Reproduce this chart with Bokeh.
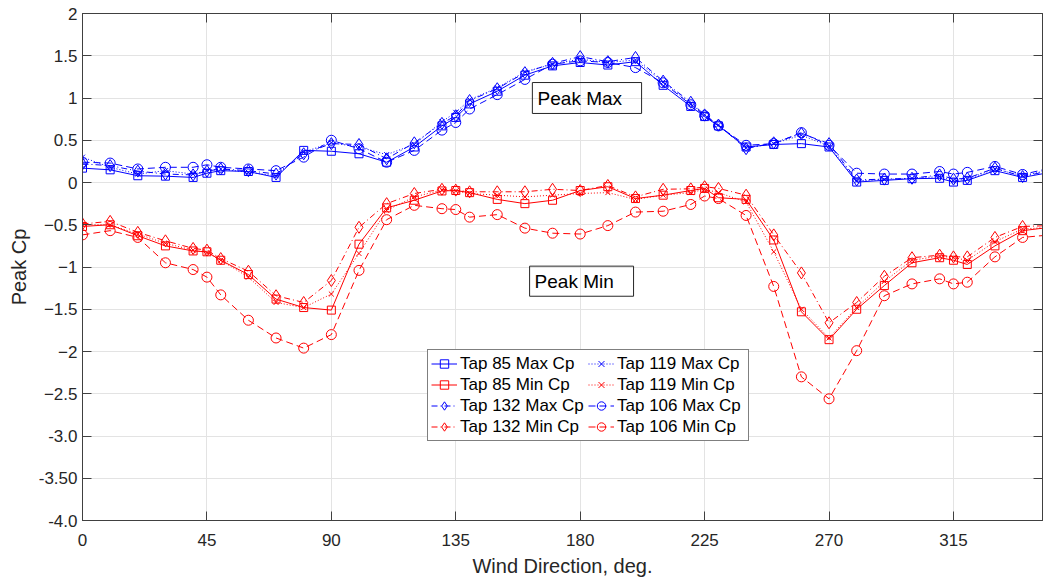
from bokeh.plotting import figure
from bokeh.models import (Range1d, FixedTicker, LinearAxis, Legend, LegendItem,
                          BoxAnnotation, Label)
from bokeh.embed import file_html
from bokeh.resources import INLINE

# ---------------- data ----------------
direction = [0, 10, 20, 30, 40, 45, 50, 60, 70, 80, 90, 100, 110, 120, 130, 135, 140,
             150, 160, 170, 180, 190, 200, 210, 220, 225, 230, 240, 250, 260, 270,
             280, 290, 300, 310, 315, 320, 330, 340, 350]

tap85_max = [0.17, 0.15, 0.08, 0.075, 0.06, 0.11, 0.14, 0.13, 0.06, 0.38, 0.37, 0.34, 0.24,
             0.42, 0.67, 0.77, 0.93, 1.08, 1.27, 1.38, 1.42, 1.39, 1.43, 1.15, 0.90, 0.78,
             0.67, 0.42, 0.45, 0.46, 0.42, 0.005, 0.025, 0.045, 0.05, 0.005, 0.025, 0.14,
             0.06, 0.12]
tap119_max = [0.30, 0.18, 0.10, 0.14, 0.10, 0.14, 0.16, 0.12, 0.08, 0.36, 0.47, 0.42, 0.33,
              0.45, 0.72, 0.83, 0.98, 1.12, 1.31, 1.40, 1.46, 1.42, 1.45, 1.19, 0.93, 0.80,
              0.68, 0.41, 0.46, 0.56, 0.43, 0.02, 0.035, 0.05, 0.07, 0.02, 0.04, 0.16,
              0.08, 0.15]
tap132_max = [0.22, 0.20, 0.135, 0.10, 0.09, 0.135, 0.16, 0.14, 0.10, 0.34, 0.46, 0.45, 0.28,
              0.47, 0.70, 0.79, 0.97, 1.11, 1.30, 1.41, 1.49, 1.43, 1.48, 1.20, 0.95, 0.80,
              0.68, 0.40, 0.47, 0.58, 0.46, 0.03, 0.04, 0.05, 0.09, 0.04, 0.05, 0.17,
              0.07, 0.14]
tap106_max = [0.24, 0.23, 0.16, 0.18, 0.18, 0.21, 0.18, 0.16, 0.14, 0.30, 0.50, 0.40, 0.24,
              0.38, 0.62, 0.71, 0.87, 1.04, 1.22, 1.40, 1.44, 1.42, 1.36, 1.18, 0.92, 0.79,
              0.67, 0.44, 0.46, 0.59, 0.44, 0.11, 0.10, 0.10, 0.13, 0.10, 0.12, 0.19,
              0.095, 0.17]

tap85_min = [-0.52, -0.50, -0.63, -0.75, -0.81, -0.82, -0.92, -1.09, -1.38, -1.48, -1.51,
             -0.73, -0.30, -0.21, -0.10, -0.095, -0.12, -0.20, -0.25, -0.21, -0.095, -0.05,
             -0.19, -0.15, -0.095, -0.07, -0.18, -0.20, -0.68, -1.53, -1.86, -1.50, -1.22,
             -0.95, -0.89, -0.92, -0.97, -0.75, -0.57, -0.53]
tap119_min = [-0.50, -0.50, -0.61, -0.72, -0.80, -0.83, -0.92, -1.12, -1.42, -1.48, -1.32,
              -0.84, -0.33, -0.17, -0.09, -0.10, -0.13, -0.15, -0.17, -0.15, -0.13, -0.12,
              -0.20, -0.15, -0.12, -0.08, -0.12, -0.23, -0.82, -1.50, -1.84, -1.48, -1.17,
              -0.92, -0.87, -0.89, -0.92, -0.70, -0.55, -0.53]
tap132_min = [-0.49, -0.46, -0.59, -0.69, -0.78, -0.80, -0.90, -1.05, -1.34, -1.42, -1.16,
              -0.53, -0.25, -0.13, -0.08, -0.09, -0.11, -0.11, -0.11, -0.08, -0.095, -0.035,
              -0.17, -0.08, -0.075, -0.05, -0.07, -0.15, -0.62, -1.07, -1.66, -1.42, -1.11,
              -0.89, -0.86, -0.88, -0.88, -0.65, -0.52, -0.51]
tap106_min = [-0.62, -0.57, -0.65, -0.95, -1.03, -1.12, -1.33, -1.63, -1.84, -1.96, -1.80,
              -1.04, -0.44, -0.27, -0.31, -0.32, -0.41, -0.38, -0.54, -0.60, -0.61, -0.51,
              -0.35, -0.34, -0.26, -0.16, -0.19, -0.39, -1.23, -2.30, -2.56, -1.99, -1.34,
              -1.20, -1.14, -1.20, -1.18, -0.88, -0.65, -0.62]

x_ticks = [0, 45, 90, 135, 180, 225, 270, 315]
y_ticks = [-4, -3.5, -3, -2.5, -2, -1.5, -1, -0.5, 0, 0.5, 1, 1.5, 2]
y_tick_overrides = {-3: "-3.0", -3.5: "-3.50", -4: "-4.0"}

# ---------------- styles ----------------
FONT = "Liberation Sans"
TXT = "#262626"
AX = "#404040"
BLUE = "#0000ff"
RED = "#ff0000"

p = figure(width=1045, height=583, output_backend="svg", toolbar_location=None,
           x_range=Range1d(0, 347.2), y_range=Range1d(-4, 2),
           min_border_left=82, min_border_right=3, min_border_top=13,
           min_border_bottom=63)
p.background_fill_color = "white"
p.border_fill_color = "white"
p.outline_line_color = AX
p.outline_line_width = 1

xt = FixedTicker(ticks=x_ticks)
yt = FixedTicker(ticks=y_ticks)

xa = p.xaxis[0]
xa.ticker = xt
xa.axis_label = "Wind Direction, deg."
ya = p.yaxis[0]
ya.ticker = yt
ya.axis_label = "Peak Cp"
ya.major_label_overrides = y_tick_overrides

for ax in (xa, ya):
    ax.axis_line_color = AX
    ax.major_tick_line_color = AX
    ax.major_tick_in = 9
    ax.major_tick_out = 0
    ax.minor_tick_line_color = None
    ax.major_label_text_font = FONT
    ax.major_label_text_font_size = "17px"
    ax.major_label_text_color = TXT
    ax.axis_label_text_font = FONT
    ax.axis_label_text_font_size = "20px"
    ax.axis_label_text_font_style = "normal"
    ax.axis_label_text_color = TXT
xa.major_label_standoff = 13
xa.axis_label_standoff = 6
ya.major_label_standoff = 5
ya.axis_label_standoff = 6

top = LinearAxis(ticker=xt, major_label_text_font_size="1px", major_label_text_color=None,
                 major_label_standoff=0, major_tick_in=9, major_tick_out=0,
                 minor_tick_line_color=None, axis_line_color=AX, major_tick_line_color=AX)
right = LinearAxis(ticker=yt, major_label_text_font_size="1px", major_label_text_color=None,
                   major_label_standoff=0, major_tick_in=9, major_tick_out=0,
                   minor_tick_line_color=None, axis_line_color=AX, major_tick_line_color=AX)
p.add_layout(top, "above")
p.add_layout(right, "right")

p.xgrid.ticker = xt
p.ygrid.ticker = yt
p.xgrid.grid_line_color = "#e3e3e3"
p.ygrid.grid_line_color = "#e3e3e3"

series = [
    ("Tap 85 Max Cp", tap85_max, BLUE, "solid", "square", 8),
    ("Tap 85 Min Cp", tap85_min, RED, "solid", "square", 8),
    ("Tap 132 Max Cp", tap132_max, BLUE, "6 3 1 3", "diamond", 12),
    ("Tap 132 Min Cp", tap132_min, RED, "6 3 1 3", "diamond", 12),
    ("Tap 119 Max Cp", tap119_max, BLUE, "1 2", "x", 7),
    ("Tap 119 Min Cp", tap119_min, RED, "1 2", "x", 7),
    ("Tap 106 Max Cp", tap106_max, BLUE, "7 4", "circle", 10),
    ("Tap 106 Min Cp", tap106_min, RED, "7 4", "circle", 10),
]

items = []
for label, vals, col, dash, marker, size in series:
    lr = p.line(direction, vals, line_color=col, line_width=1, line_dash=dash)
    sr = p.scatter(direction, vals, marker=marker, size=size, line_color=col,
                   fill_color=None, line_width=1)
    items.append(LegendItem(label=label, renderers=[lr, sr]))

legend = Legend(items=items, location=(345, 79), ncols=2, orientation="vertical")
legend.label_text_font = FONT
legend.label_text_font_size = "17px"
legend.label_text_color = "black"
legend.border_line_color = "black"
legend.border_line_width = 1
legend.background_fill_color = "white"
legend.background_fill_alpha = 1
legend.glyph_width = 26
legend.glyph_height = 21
legend.label_height = 21
legend.label_width = 128
legend.label_standoff = 3
legend.spacing = 0
legend.padding = 3
legend.margin = 0
p.add_layout(legend)

# text boxes
p.add_layout(BoxAnnotation(left=162.7, right=202.2, bottom=0.817, top=1.183,
                           fill_alpha=0, line_color="#262626", line_alpha=1,
                           line_width=1))
p.add_layout(Label(x=164.6, y=1.0, text="Peak Max", text_font=FONT,
                   text_font_size="19px", text_color="black",
                   text_baseline="middle"))
p.add_layout(BoxAnnotation(left=161.7, right=199.3, bottom=-1.346, top=-0.99,
                           fill_alpha=0, line_color="#262626", line_alpha=1,
                           line_width=1))
p.add_layout(Label(x=163.5, y=-1.168, text="Peak Min", text_font=FONT,
                   text_font_size="19px", text_color="black",
                   text_baseline="middle"))

open("out.html", "w").write(file_html(p, INLINE))
